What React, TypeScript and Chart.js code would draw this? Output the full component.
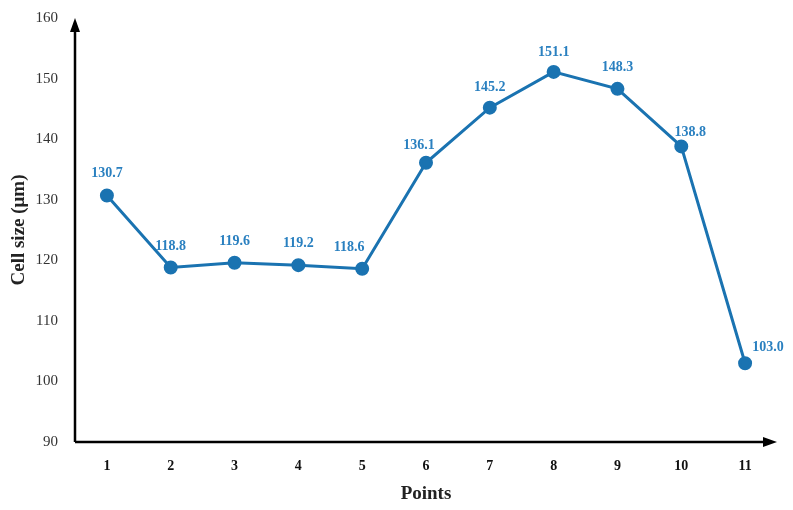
import React, { useEffect, useRef } from "react";
import { Chart, registerables } from "chart.js";

Chart.register(...registerables);

const categories = ["1", "2", "3", "4", "5", "6", "7", "8", "9", "10", "11"];
const cellSize = [130.7, 118.8, 119.6, 119.2, 118.6, 136.1, 145.2, 151.1, 148.3, 138.8, 103.0];
const yTicks = [90, 100, 110, 120, 130, 140, 150, 160];

const LINE = "#1a73b1";
const LABEL = "#2a80c0";
const SERIF = "'Liberation Serif', 'DejaVu Serif', serif";

// label placement offsets (dx, dy) relative to each point
const labelDx = [0, 0, 0, 0, -13, -7, 0, 0, 0, 9, 23];
const labelDy = [-22, -21, -21, -22, -21, -17, -20, -20, -21, -14, -16];

const decorPlugin = {
  id: "decor",
  afterDatasetsDraw(chart: any) {
    const ctx = chart.ctx;
    const meta = chart.getDatasetMeta(0);
    ctx.save();
    ctx.fillStyle = LABEL;
    ctx.font = `bold 14px ${SERIF}`;
    ctx.textAlign = "center";
    ctx.textBaseline = "middle";
    meta.data.forEach((pt: any, i: number) => {
      ctx.fillText(cellSize[i].toFixed(1), pt.x + labelDx[i], pt.y + labelDy[i]);
    });
    ctx.restore();
  },
  afterDraw(chart: any) {
    const ctx = chart.ctx;
    const { left, right, top, bottom } = chart.chartArea;
    ctx.save();
    ctx.strokeStyle = "#000";
    ctx.fillStyle = "#000";
    ctx.lineWidth = 2.5;
    ctx.beginPath();
    ctx.moveTo(left, bottom);
    ctx.lineTo(left, top + 10);
    ctx.moveTo(left, bottom);
    ctx.lineTo(right - 10, bottom);
    ctx.stroke();
    ctx.beginPath();
    ctx.moveTo(left, top);
    ctx.lineTo(left - 5, top + 14);
    ctx.lineTo(left + 5, top + 14);
    ctx.closePath();
    ctx.fill();
    ctx.beginPath();
    ctx.moveTo(right, bottom);
    ctx.lineTo(right - 14, bottom - 5);
    ctx.lineTo(right - 14, bottom + 5);
    ctx.closePath();
    ctx.fill();
    ctx.restore();
  },
};

export default function App() {
  const ref = useRef<HTMLCanvasElement>(null);
  useEffect(() => {
    document.body.style.margin = "0";
    const chart = new Chart(ref.current!, {
      type: "line",
      data: {
        labels: categories,
        datasets: [
          {
            data: cellSize,
            borderColor: LINE,
            backgroundColor: LINE,
            borderWidth: 3,
            pointRadius: 5.5,
            pointHoverRadius: 5.5,
            pointBackgroundColor: LINE,
            pointBorderColor: LINE,
            tension: 0,
          },
        ],
      },
      options: {
        animation: false,
        responsive: false,
        maintainAspectRatio: false,
        layout: { padding: { top: 18, right: 16, left: 8, bottom: 0 } },
        plugins: { legend: { display: false }, tooltip: { enabled: false } },
        scales: {
          x: {
            offset: true,
            grid: { display: false, drawTicks: false },
            border: { display: false },
            ticks: {
              color: "#111",
              font: { family: SERIF, size: 14, weight: "bold" },
              padding: 16,
            },
            title: {
              display: true,
              text: "Points",
              color: "#222",
              font: { family: SERIF, size: 19, weight: "bold" },
              padding: { top: 2, bottom: 5 },
            },
            afterFit(scale: any) {
              scale.height = 68;
              scale.paddingLeft = 0;
              scale.paddingRight = 0;
            },
          },
          y: {
            min: 90,
            max: 160,
            afterBuildTicks(scale: any) {
              scale.ticks = yTicks.map((v) => ({ value: v }));
            },
            grid: { display: false, drawTicks: false },
            border: { display: false },
            ticks: {
              color: "#333",
              font: { family: SERIF, size: 15 },
              padding: 17,
            },
            title: {
              display: true,
              text: "Cell size (μm)",
              color: "#222",
              font: { family: SERIF, size: 19, weight: "bold" },
              padding: { top: 0, bottom: 0 },
            },
            afterFit(scale: any) {
              scale.width = 67;
              scale.paddingTop = 0;
              scale.paddingBottom = 0;
            },
          },
        },
      },
      plugins: [decorPlugin],
    });
    return () => chart.destroy();
  }, []);
  return (
    <div style={{ width: 793, height: 510, background: "#fff" }}>
      <canvas ref={ref} width={793} height={510} />
    </div>
  );
}
